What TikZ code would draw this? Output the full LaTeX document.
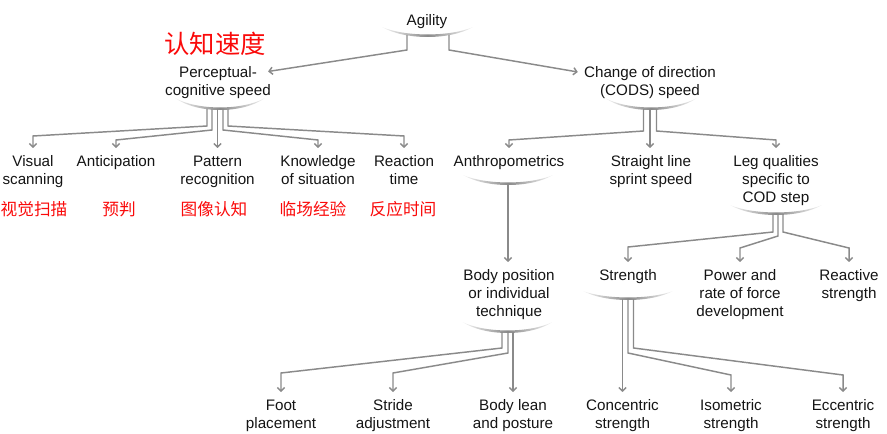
\documentclass[tikz,border=0pt]{standalone}
\usepackage{fontspec}
\setmainfont{Liberation Sans}
\newfontfamily\cjk{Noto Sans CJK SC}
\usetikzlibrary{arrows.meta,calc}
\definecolor{lnc}{RGB}{138,138,138}
\definecolor{txc}{RGB}{20,20,20}
\definecolor{rc}{RGB}{250,10,10}
% crescent under a label: centre x, bottom y, half width, depth
\newcommand\crsc[4]{%
  \shade[left color=lnc!8, right color=lnc!8, middle color=lnc]
   (#1-#3,#2-#4) .. controls (#1-#3*0.5,#2+#4/3) and (#1+#3*0.5,#2+#4/3) .. (#1+#3,#2-#4)
   .. controls (#1+#3*0.5,#2-#4+4*#4/3-3.4) and (#1-#3*0.5,#2-#4+4*#4/3-3.4) .. cycle;}
\newcommand\tst{\rule{0pt}{13.8pt}}
\tikzset{
 conn/.style={draw=lnc, line width=1.1pt, -{Straight Barb[length=2.6pt,width=5.4pt]}},
 lbl/.style={anchor=north, inner sep=0pt, align=center, text=txc,
   font=\fontsize{11.4}{13.5}\selectfont},
 zh/.style={text=rc, font=\cjk\fontsize{12.5}{14}\selectfont, inner sep=0pt},
 zhbig/.style={text=rc, font=\cjk\fontsize{19}{22}\selectfont, inner sep=0pt},
}
\begin{document}
\begin{tikzpicture}[x=0.75pt,y=-0.75pt]
\useasboundingbox (0,0) rectangle (887,434);

% Agility
\node[anchor=base, inner sep=0pt, text=txc, font=\fontsize{11.4}{13.5}\selectfont] (ag) at (427,25.5) {Agility};
\crsc{427.5}{37}{45.5}{10}
\coordinate (agB) at (428,35);
\node[lbl] (pc) at (218,58.6) {\tst Perceptual-\\cognitive speed};
\node[lbl] (cod) at (650,58.6) {\tst Change of direction\\(CODS) speed};
\draw[conn] ($(agB)+(-21,0)$) -- ++(0,15) -- ($(pc.north east)+(-3,12.9)$);
\draw[conn] ($(agB)+(21,0)$) -- ++(0,15) -- ($(cod.north west)+(-6,13.4)$);

% red titles
\node[zhbig] (zh0) at (215,44) {认知速度};

% perceptual-cognitive children
\crsc{220}{110}{45}{12}
\coordinate (pcB) at (217.5,109);
\node[lbl] (vis) at (33,148) {\tst Visual\\scanning};
\node[lbl] (ant) at (116,148) {\tst Anticipation};
\node[lbl] (pat) at (217.5,148) {\tst Pattern\\recognition};
\node[lbl] (kno) at (318,148) {\tst Knowledge\\of situation};
\node[lbl] (rea) at (404,148) {\tst Reaction\\time};
\draw[conn] ($(pcB)+(-10.5,0)$) -- ++(0,17) -- ($(vis.north)+(0,-12)$) -- (vis.north);
\draw[conn] ($(pcB)+(-5.5,0)$) -- ++(0,21) -- ($(ant.north)+(0,-8)$) -- (ant.north);
\draw[conn] (pcB) -- (pcB |- pat.north);
\draw[conn] ($(pcB)+(5.5,0)$) -- ++(0,21) -- ($(kno.north)+(0,-8)$) -- (kno.north);
\draw[conn] ($(pcB)+(10.5,0)$) -- ++(0,17) -- ($(rea.north)+(0,-12)$) -- (rea.north);

\node[zh] (zh1) at (34,209) {视觉扫描};
\node[zh] (zh2) at (119,209) {预判};
\node[zh] (zh3) at (214,209) {图像认知};
\node[zh] (zh4) at (313,209) {临场经验};
\node[zh] (zh5) at (403,209) {反应时间};

% CODS children
\crsc{651}{110}{46}{12}
\coordinate (codB) at (650,109);
\node[lbl] (anth) at (509,148) {\tst Anthropometrics};
\node[lbl] (sls) at (651,148) {\tst Straight line\\sprint speed};
\node[lbl] (leg) at (776,148) {\tst Leg qualities\\specific to\\COD step};
\draw[conn] ($(codB)+(-6.5,0)$) -- ++(0,22) -- ($(anth.north)+(0,-8)$) -- (anth.north);
\draw[conn] (codB) -- (codB |- sls.north);
\draw[conn] ($(codB)+(6.5,0)$) -- ++(0,22) -- ($(leg.north)+(0,-8)$) -- (leg.north);

% anthropometrics
\crsc{508}{185}{45}{10}
\coordinate (anB) at (508,184);
\node[lbl] (body) at (509,262) {\tst Body position\\or individual\\technique};
\draw[conn] (anB) -- (anB |- body.north);

% leg qualities
\crsc{776}{215}{46}{10}
\coordinate (legB) at (778,214);
\node[lbl] (strg) at (628,262) {\tst Strength};
\node[lbl] (pow) at (740,262) {\tst Power and\\rate of force\\development};
\node[lbl] (reac) at (849,262) {\tst Reactive\\strength};
\draw[conn] ($(legB)+(-5,0)$) -- ++(0,18) -- ($(strg.north)+(0,-15)$) -- (strg.north);
\draw[conn] (legB) -- ++(0,22) -- ($(pow.north)+(0,-14)$) -- (pow.north);
\draw[conn] ($(legB)+(5,0)$) -- ++(0,18) -- ($(reac.north)+(0,-14)$) -- (reac.north);

% body position
\crsc{507.5}{333}{45}{11}
\coordinate (boB) at (507.5,332);
\node[lbl] (foot) at (281,392) {\tst Foot\\placement};
\node[lbl] (stride) at (393,392) {\tst Stride\\adjustment};
\node[lbl] (lean) at (513,392) {\tst Body lean\\and posture};
\draw[conn] ($(boB)+(-5.5,0)$) -- ++(0,16) -- ($(foot.north)+(0,-19)$) -- (foot.north);
\draw[conn] ($(boB)+(0.5,0)$) -- ++(0,21) -- ($(stride.north)+(0,-19)$) -- (stride.north);
\draw[conn] ($(boB)+(5.5,0)$) -- (lean.north);

% strength
\crsc{628}{300}{45}{9}
\coordinate (stB) at (628,299);
\node[lbl] (conc) at (622.5,392) {\tst Concentric\\strength};
\node[lbl] (iso) at (731,392) {\tst Isometric\\strength};
\node[lbl] (ecc) at (843,392) {\tst Eccentric\\strength};
\draw[conn] ($(stB)+(-5.5,0)$) -- (conc.north);
\draw[conn] (stB) -- ++(0,54) -- ($(iso.north)+(0,-17)$) -- (iso.north);
\draw[conn] ($(stB)+(5.5,0)$) -- ++(0,49) -- ($(ecc.north)+(0,-17)$) -- (ecc.north);
\end{tikzpicture}
\end{document}
